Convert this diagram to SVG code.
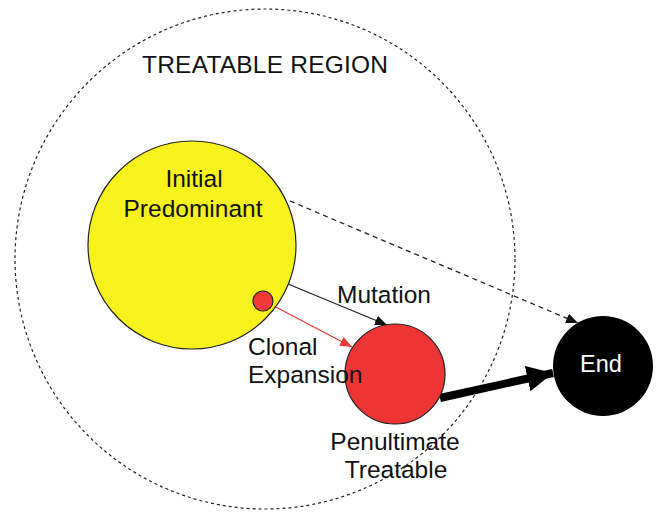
<svg xmlns="http://www.w3.org/2000/svg" width="662" height="513" viewBox="0 0 662 513">
<style>
text{font-family:"Liberation Sans",Arial,sans-serif;font-size:24.5px;fill:#111}
.node{stroke:#222;stroke-width:1.2}
</style>
<defs>
<marker id="ah" markerUnits="userSpaceOnUse" markerWidth="14" markerHeight="12" refX="12" refY="5" orient="auto"><path d="M0,0 L12,5 L0,10 Z" fill="#111"/></marker>
<marker id="ahr" markerUnits="userSpaceOnUse" markerWidth="14" markerHeight="12" refX="12" refY="5" orient="auto"><path d="M0,0 L12,5 L0,10 Z" fill="#f03a3a"/></marker>
<marker id="ahb" markerUnits="userSpaceOnUse" markerWidth="30" markerHeight="28" refX="26" refY="13" orient="auto"><path d="M0,0 L26,13 L0,26 Z" fill="#000"/></marker>
</defs>
<rect width="662" height="513" fill="#fff"/>
<g id="region">
<circle cx="265" cy="259" r="250" fill="none" stroke="#222" stroke-width="1.2" stroke-dasharray="3,3"/>
<text x="142" y="73" textLength="246">TREATABLE REGION</text>
</g>
<g id="connectors">
<line x1="290" y1="201" x2="578" y2="323" stroke="#222" stroke-width="1.3" stroke-dasharray="5,4" marker-end="url(#ah)"/>
<line x1="288" y1="284" x2="387" y2="325" stroke="#222" stroke-width="1.3" marker-end="url(#ah)"/>
<line x1="272" y1="305" x2="352" y2="347" stroke="#f03a3a" stroke-width="1.3" marker-end="url(#ahr)"/>
<line x1="440" y1="398" x2="553" y2="373" stroke="#000" stroke-width="8" marker-end="url(#ahb)"/>
</g>
<g id="initial">
<circle class="node" cx="192" cy="245" r="104" fill="#f7f21c"/>
<text x="194" y="187" text-anchor="middle">Initial</text>
<text x="193" y="217" text-anchor="middle">Predominant</text>
</g>
<g id="clone">
<circle class="node" cx="263" cy="301" r="10" fill="#f03a3a"/>
</g>
<g id="mutation-label">
<text x="337" y="303">Mutation</text>
</g>
<g id="penultimate">
<circle class="node" cx="395" cy="374" r="50" fill="#ee3535"/>
<text x="395" y="450" text-anchor="middle">Penultimate</text>
<text x="396" y="478" text-anchor="middle">Treatable</text>
</g>
<g id="clonal-label">
<text x="248" y="355">Clonal</text>
<text x="248" y="383">Expansion</text>
</g>
<g id="end">
<circle cx="603" cy="366" r="50" fill="#000"/>
<text x="601" y="372" text-anchor="middle" style="fill:#fff;font-size:23.5px">End</text>
</g>
</svg>
